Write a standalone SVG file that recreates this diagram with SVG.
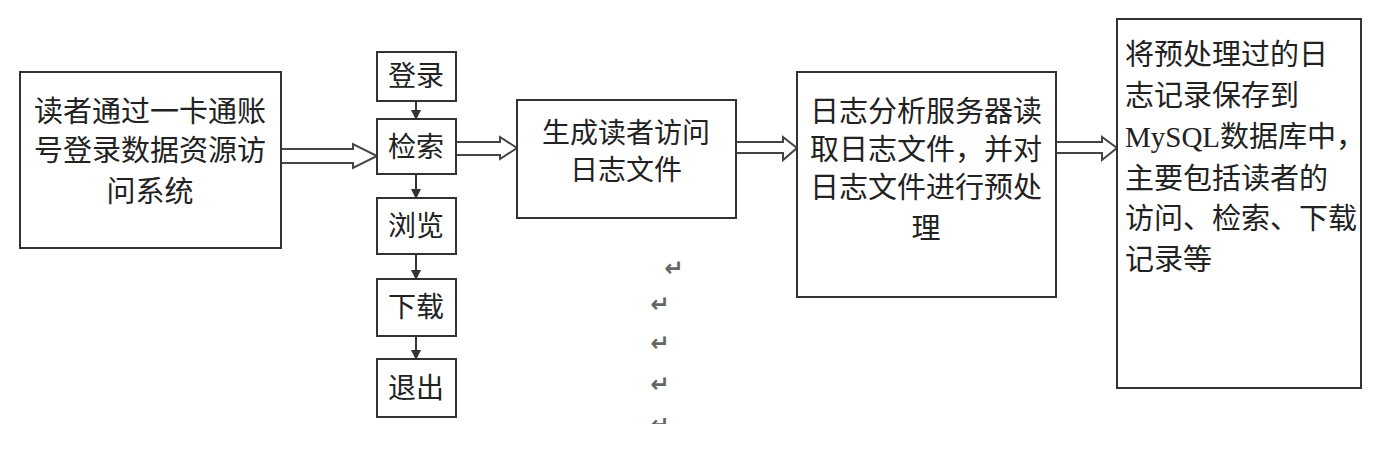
<svg xmlns="http://www.w3.org/2000/svg" width="1392" height="457" viewBox="0 0 1392 457">
<style>
.box{fill:#fff;stroke:#333;stroke-width:2}
.t{font-family:"Noto Sans CJK SC","Liberation Serif",serif;fill:#222}
.big{font-size:29px}
.sm{font-size:28px}
.m{text-anchor:middle}
.la{font-family:"Liberation Serif","Noto Sans CJK SC",serif}
.hollow{fill:#fff;stroke:#444;stroke-width:2;stroke-linejoin:miter}
.dn{stroke:#333;stroke-width:2;fill:none}
.pm{font-family:"DejaVu Sans",sans-serif;font-size:23px;font-weight:bold;fill:#666;text-anchor:middle}
</style>
<defs>
<marker id="ah" markerWidth="10" markerHeight="10" refX="9" refY="5" orient="auto" markerUnits="userSpaceOnUse">
<path d="M0,0 L10,5 L0,10 Z" fill="#333"/>
</marker>
<clipPath id="cut" clipPathUnits="userSpaceOnUse"><rect x="640" y="418" width="40" height="6"/></clipPath>
</defs>
<rect width="1392" height="457" fill="#fff"/>

<g id="connectors">
<polygon class="hollow" points="281,149 353,149 353,144 377,156 353,168 353,163 281,163"/>
<polygon class="hollow" points="456,142 500,142 500,137 517,148 500,159 500,155 456,155"/>
<polygon class="hollow" points="736,142 783,142 783,137 797,148 783,160 783,153 736,153"/>
<polygon class="hollow" points="1056,142 1102,142 1102,137 1117,148 1102,160 1102,153 1056,153"/>
<line class="dn" x1="416" y1="101" x2="416" y2="119" marker-end="url(#ah)"/>
<line class="dn" x1="416" y1="174" x2="416" y2="198" marker-end="url(#ah)"/>
<line class="dn" x1="416" y1="254" x2="416" y2="279" marker-end="url(#ah)"/>
<line class="dn" x1="416" y1="336" x2="416" y2="359" marker-end="url(#ah)"/>
</g>

<g id="node-login-system">
<rect class="box" x="20" y="72" width="261" height="176"/>
<text class="t big m" x="150" y="122">读者通过一卡通账</text>
<text class="t big m" x="150" y="161">号登录数据资源访</text>
<text class="t big m" x="150" y="202">问系统</text>
</g>

<g id="node-denglu">
<rect class="box" x="377" y="52" width="79" height="49"/>
<text class="t sm m" x="416" y="86">登录</text>
</g>
<g id="node-jiansuo">
<rect class="box" x="377" y="119" width="79" height="55"/>
<text class="t sm m" x="416" y="157">检索</text>
</g>
<g id="node-liulan">
<rect class="box" x="377" y="198" width="79" height="56"/>
<text class="t sm m" x="416" y="236">浏览</text>
</g>
<g id="node-xiazai">
<rect class="box" x="377" y="279" width="79" height="57"/>
<text class="t sm m" x="416" y="317">下载</text>
</g>
<g id="node-tuichu">
<rect class="box" x="377" y="359" width="79" height="58"/>
<text class="t sm m" x="416" y="398">退出</text>
</g>

<g id="node-log-file">
<rect class="box" x="517" y="100" width="219" height="118"/>
<text class="t sm m" x="626" y="143">生成读者访问</text>
<text class="t sm m" x="626" y="180">日志文件</text>
</g>

<g id="node-log-server">
<rect class="box" x="797" y="72" width="259" height="225"/>
<text class="t big m" x="926" y="122">日志分析服务器读</text>
<text class="t big m" x="926" y="160">取日志文件，并对</text>
<text class="t big m" x="926" y="198">日志文件进行预处</text>
<text class="t big m" x="926" y="239">理</text>
</g>

<g id="node-mysql">
<rect class="box" x="1117" y="19" width="244" height="369"/>
<text class="t big" x="1125" y="65">将预处理过的日</text>
<text class="t big" x="1125" y="106">志记录保存到</text>
<text class="t big" x="1125" y="147"><tspan class="la">MySQL</tspan>数据库中，</text>
<text class="t big" x="1125" y="189">主要包括读者的</text>
<text class="t big" x="1125" y="229">访问、检索、下载</text>
<text class="t big" x="1125" y="270">记录等</text>
</g>

<g id="marks">
<text class="pm" x="674" y="276">↵</text>
<text class="pm" x="660" y="312">↵</text>
<text class="pm" x="660" y="351">↵</text>
<text class="pm" x="660" y="392">↵</text>
<g clip-path="url(#cut)"><text class="pm" x="660" y="432">↵</text></g>
</g>
</svg>
